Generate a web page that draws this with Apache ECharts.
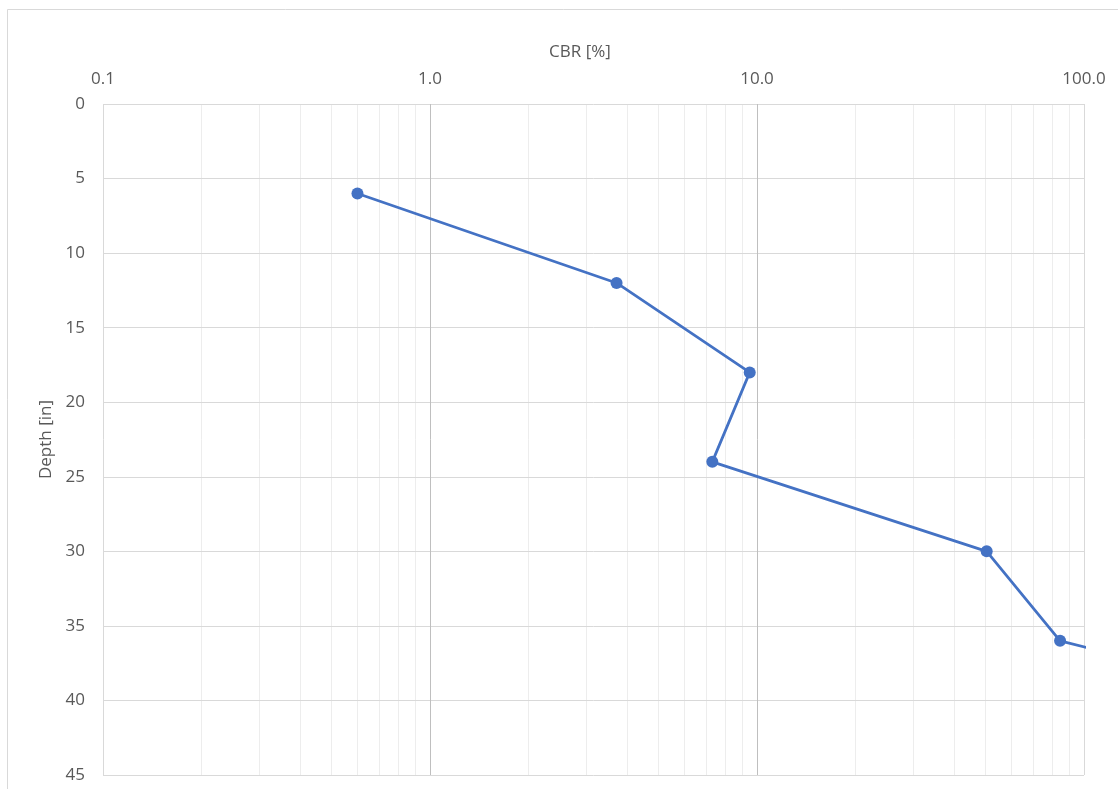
<!DOCTYPE html>
<html>
<head>
<meta charset="utf-8">
<title>CBR vs Depth</title>
<script src="https://cdn.jsdelivr.net/npm/echarts@6/dist/echarts.min.js"></script>
<style>
  html, body { margin: 0; padding: 0; background: #ffffff; }
  #chart { width: 1118px; height: 789px; }
</style>
</head>
<body>
<div id="chart"></div>
<script>
// Penetration profile: CBR (%) against depth (in)
const depthIn = [6, 12, 18, 24, 30, 36, 42];
const cbrPercent = [0.6, 3.72, 9.5, 7.3, 50.4, 84.5, 1000];

// Depth ticks (inverted axis) and log-decade labels
const depthTicks = [0, 5, 10, 15, 20, 25, 30, 35, 40, 45];
const cbrDecades = [0.1, 1, 10, 100];

// Minor vertical gridlines within each decade
const cbrMinorLines = [
  0.2, 0.3, 0.4, 0.5, 0.6, 0.7, 0.8, 0.9,
  2, 3, 4, 5, 6, 7, 8, 9,
  20, 30, 40, 50, 60, 70, 80, 90
];

const TEXT = '#595959';
const FONT = '"Open Sans", "Liberation Sans", sans-serif';

const chart = echarts.init(document.getElementById('chart'), null, { renderer: 'canvas' });

const option = {
  animation: false,
  backgroundColor: '#ffffff',
  graphic: [
    {
      type: 'rect',
      z: 0,
      silent: true,
      shape: { x: 7.5, y: 9.5, width: 1200, height: 900 },
      style: { fill: 'none', stroke: '#d9d9d9', lineWidth: 1 }
    },
    {
      type: 'text',
      silent: true,
      x: 580,
      y: 52,
      style: {
        text: 'CBR [%]',
        fill: TEXT,
        font: '17px ' + FONT,
        align: 'center',
        verticalAlign: 'middle',
        textAlign: 'center',
        textVerticalAlign: 'middle'
      }
    }
  ],
  grid: { left: 103, right: 34, top: 104, bottom: 14, containLabel: false },
  xAxis: {
    type: 'log',
    logBase: 10,
    position: 'top',
    min: cbrDecades[0],
    max: cbrDecades[cbrDecades.length - 1],
    z: 2,
    axisLine: { show: false },
    axisTick: { show: false },
    axisLabel: {
      color: TEXT,
      fontFamily: FONT,
      fontSize: 17,
      margin: 16,
      formatter: v => Number(v).toFixed(1)
    },
    splitLine: {
      show: true,
      lineStyle: { color: ['#d9d9d9', '#bfbfbf', '#bfbfbf', '#d9d9d9'], width: 1 }
    }
  },
  yAxis: {
    type: 'value',
    inverse: true,
    min: depthTicks[0],
    max: depthTicks[depthTicks.length - 1],
    interval: depthTicks[1] - depthTicks[0],
    z: 2,
    name: 'Depth [in]',
    nameLocation: 'middle',
    nameRotate: 90,
    nameGap: 47,
    nameTextStyle: { color: TEXT, fontFamily: FONT, fontSize: 17 },
    axisLine: { show: false },
    axisTick: { show: false },
    axisLabel: { color: TEXT, fontFamily: FONT, fontSize: 17, margin: 18 },
    splitLine: { show: true, lineStyle: { color: '#d9d9d9', width: 1 } }
  },
  series: [
    {
      name: 'minor grid',
      type: 'line',
      z: 1,
      silent: true,
      data: [],
      markLine: {
        z: 1,
        silent: true,
        symbol: ['none', 'none'],
        label: { show: false },
        lineStyle: { color: '#ededed', width: 1, type: 'solid' },
        emphasis: { disabled: true },
        data: cbrMinorLines.map(v => ({ xAxis: v }))
      }
    },
    {
      name: 'CBR',
      type: 'line',
      z: 10,
      clip: true,
      data: depthIn.map((d, i) => [cbrPercent[i], d]),
      symbol: 'circle',
      symbolSize: 12,
      lineStyle: { color: '#4472C4', width: 2.75 },
      itemStyle: { color: '#4472C4' }
    }
  ]
};

chart.setOption(option);
</script>
</body>
</html>
